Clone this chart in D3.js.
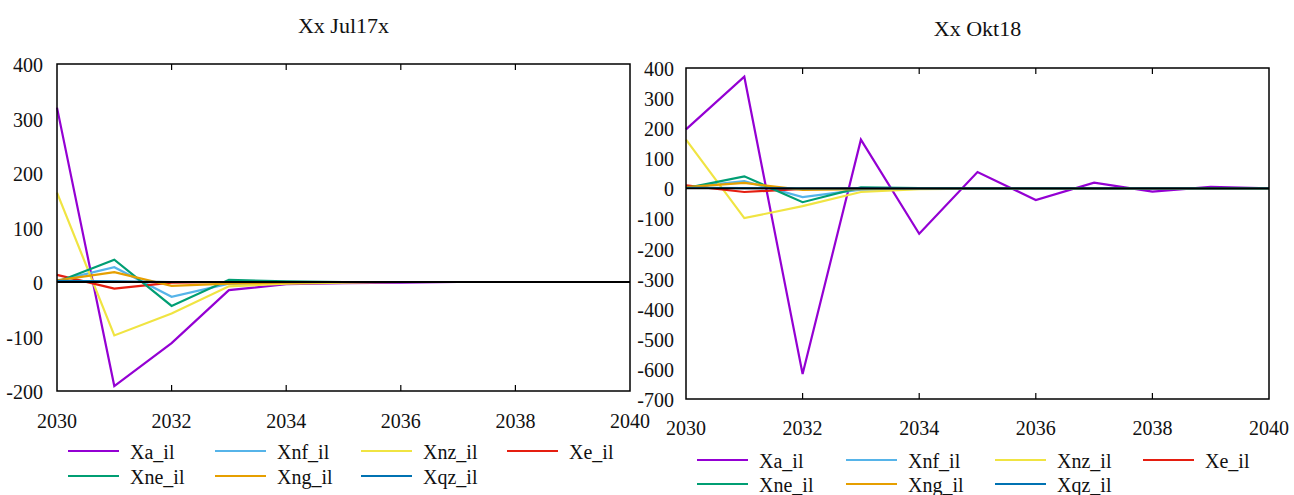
<!DOCTYPE html>
<html>
<head>
<meta charset="utf-8">
<script src="https://cdn.jsdelivr.net/npm/d3@7"></script>
</head>
<body style="margin:0;background:#fff">
<svg id="chart" width="1294" height="495" style="display:block" font-family="Liberation Serif"></svg>
<script>
// ---------- data ----------
const years = [2030, 2031, 2032, 2033, 2034, 2035, 2036, 2037, 2038, 2039, 2040];
const xTicks = [2030, 2032, 2034, 2036, 2038, 2040];
const seriesNames = ["Xa_il", "Xnf_il", "Xnz_il", "Xe_il", "Xne_il", "Xng_il", "Xqz_il"];
const seriesColors = ["#9400D3", "#56B4E9", "#F0E442", "#E51E10", "#009E73", "#E69F00", "#0072B2"];

const titleLeft = "Xx Jul17x";
const yTicksLeft = [400, 300, 200, 100, 0, -100, -200];
const L_Xa  = [320, -191, -112, -15, -4, -2, -1, 0, 0, 0, 0];
const L_Xnf = [2, 27, -27, -3, -1, 0, 0, 0, 0, 0, 0];
const L_Xnz = [164, -98, -58, -8, -3, -1, 0, 0, 0, 0, 0];
const L_Xe  = [13, -12, -1, 0, 0, 0, 0, 0, 0, 0, 0];
const L_Xne = [0, 41, -44, 4, 1, 0, 0, 0, 0, 0, 0];
const L_Xng = [3, 18, -7, -3, -1, 0, 0, 0, 0, 0, 0];
const L_Xqz = [2, 1, 0, 0, 0, 0, 0, 0, 0, 0, 0];

const titleRight = "Xx Okt18";
const yTicksRight = [400, 300, 200, 100, 0, -100, -200, -300, -400, -500, -600, -700];
const R_Xa  = [196, 371, -617, 162, -151, 54, -39, 19, -11, 5, 0];
const R_Xnf = [3, 24, -29, -4, -1, 0, 0, 0, 0, 0, 0];
const R_Xnz = [162, -99, -59, -12, -3, -1, 0, 0, 0, 0, 0];
const R_Xe  = [10, -12, -2, 0, 0, 0, 0, 0, 0, 0, 0];
const R_Xne = [1, 40, -46, 3, 1, 0, 0, 0, 0, 0, 0];
const R_Xng = [4, 18, -5, -3, -1, 0, 0, 0, 0, 0, 0];
const R_Xqz = [2, 1, 0, 0, 0, 0, 0, 0, 0, 0, 0];

// ---------- drawing ----------
const FONT = "Liberation Serif";
const svg = d3.select("#chart");

function txt(sel) {
  return sel.attr("font-family", FONT).style("font-family", FONT).attr("fill", "#111");
}

function drawPanel(cfg) {
  const g = svg.append("g").attr("font-family", FONT);
  const x = d3.scaleLinear().domain([2030, 2040]).range([cfg.x0, cfg.x1]);
  const y = d3.scaleLinear().domain([cfg.yMin, cfg.yMax]).range([cfg.y0, cfg.y1]);

  // title
  txt(g.append("text"))
    .attr("x", (cfg.x0 + cfg.x1) / 2).attr("y", cfg.titleY)
    .attr("text-anchor", "middle").attr("dominant-baseline", "central")
    .attr("font-size", 22)
    .text(cfg.title);

  // y tick labels
  cfg.yTicks.forEach(d => {
    txt(g.append("text"))
      .attr("x", cfg.x0 - cfg.yLabelGap).attr("y", y(d) + 1)
      .attr("text-anchor", "end").attr("dominant-baseline", "central")
      .attr("font-size", 20)
      .text(String(d));
  });

  // x tick labels
  xTicks.forEach(d => {
    txt(g.append("text"))
      .attr("x", x(d)).attr("y", cfg.xLabelY)
      .attr("text-anchor", "middle").attr("dominant-baseline", "central")
      .attr("font-size", 20)
      .text(String(d));
  });

  // series
  const line = d3.line().x((d, i) => x(years[i])).y(d => y(d));
  cfg.series.forEach((vals, k) => {
    g.append("path").datum(vals)
      .attr("d", line)
      .attr("fill", "none")
      .attr("stroke", seriesColors[k])
      .attr("stroke-width", 2.2)
      .attr("stroke-linejoin", "miter");
  });

  // zero line
  g.append("line")
    .attr("x1", cfg.x0).attr("x2", cfg.x1)
    .attr("y1", y(0)).attr("y2", y(0))
    .attr("stroke", "#000").attr("stroke-width", 1.8);

  // frame
  g.append("rect")
    .attr("x", cfg.x0).attr("y", cfg.y1)
    .attr("width", cfg.x1 - cfg.x0).attr("height", cfg.y0 - cfg.y1)
    .attr("fill", "none").attr("stroke", "#000").attr("stroke-width", 1.5);

  // inward x ticks top and bottom
  xTicks.slice(1, -1).forEach(t => {
    g.append("line").attr("x1", x(t)).attr("x2", x(t))
      .attr("y1", cfg.y0).attr("y2", cfg.y0 - 6)
      .attr("stroke", "#000").attr("stroke-width", 1.2);
    g.append("line").attr("x1", x(t)).attr("x2", x(t))
      .attr("y1", cfg.y1).attr("y2", cfg.y1 + 6)
      .attr("stroke", "#000").attr("stroke-width", 1.2);
  });

  // legend
  seriesNames.forEach((name, k) => {
    const col = k % 4, row = Math.floor(k / 4);
    const lx = cfg.legX[col], ly = cfg.legY[row];
    g.append("line")
      .attr("x1", lx).attr("x2", lx + 51)
      .attr("y1", ly).attr("y2", ly)
      .attr("stroke", seriesColors[k]).attr("stroke-width", 2.2);
    txt(g.append("text"))
      .attr("x", lx + 62).attr("y", ly + 1)
      .attr("dominant-baseline", "central")
      .attr("font-size", 20)
      .text(name);
  });
}

drawPanel({
  title: titleLeft, titleY: 25,
  x0: 57, x1: 630, y0: 391, y1: 64,
  yMin: -200, yMax: 400, yTicks: yTicksLeft,
  yLabelGap: 14, xLabelY: 421,
  series: [L_Xa, L_Xnf, L_Xnz, L_Xe, L_Xne, L_Xng, L_Xqz],
  legX: [68, 215, 361, 507], legY: [451, 476]
});

drawPanel({
  title: titleRight, titleY: 28,
  x0: 686, x1: 1269, y0: 399, y1: 68,
  yMin: -700, yMax: 400, yTicks: yTicksRight,
  yLabelGap: 12, xLabelY: 428,
  series: [R_Xa, R_Xnf, R_Xnz, R_Xe, R_Xne, R_Xng, R_Xqz],
  legX: [697, 846, 995, 1143], legY: [460, 484]
});
</script>
</body>
</html>
